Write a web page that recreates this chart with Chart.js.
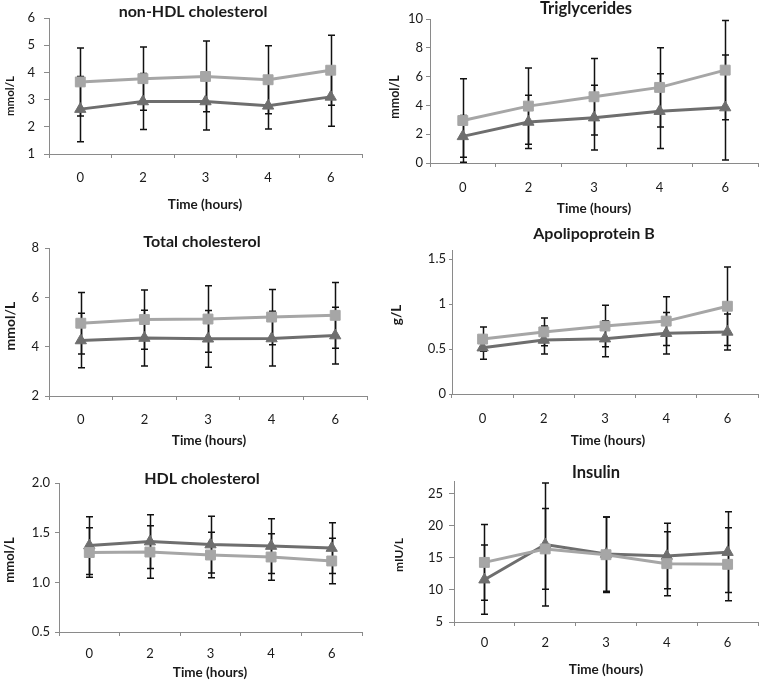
<!DOCTYPE html>
<html><head><meta charset="utf-8">
<script src="https://cdn.jsdelivr.net/npm/chart.js@4/dist/chart.umd.min.js"></script>
<style>
html,body{margin:0;padding:0;background:#fff;}
#wrap{position:relative;width:766px;height:681px;overflow:hidden;}
canvas{position:absolute;display:block;}
</style></head><body><div id="wrap"></div>
<script>
// ---------- data ----------
const timeLabels = ['0', '2', '3', '4', '6'];

// non-HDL cholesterol (mmol/L)
const nonHdlSquareMean = [3.65, 3.77, 3.85, 3.73, 4.08];
const nonHdlSquareSd   = [1.25, 1.16, 1.30, 1.25, 1.29];
const nonHdlTriMean    = [2.65, 2.93, 2.93, 2.77, 3.10];
const nonHdlTriSd      = [1.20, 1.03, 1.05, 0.85, 1.08];
const nonHdlTicks      = [1, 2, 3, 4, 5, 6];

// Triglycerides (mmol/L)
const tgSquareMean = [2.95, 3.95, 4.60, 5.25, 6.45];
const tgSquareSd   = [2.90, 2.65, 2.65, 2.75, 3.45];
const tgTriMean    = [1.85, 2.85, 3.15, 3.60, 3.85];
const tgTriSd      = [1.45, 1.85, 2.25, 2.60, 3.65];
const tgTicks      = [0, 2, 4, 6, 8, 10];

// Total cholesterol (mmol/L)
const tcSquareMean = [4.95, 5.10, 5.12, 5.20, 5.27];
const tcSquareSd   = [1.25, 1.20, 1.35, 1.12, 1.33];
const tcTriMean    = [4.25, 4.35, 4.32, 4.33, 4.45];
const tcTriSd      = [1.10, 1.13, 1.15, 1.11, 1.15];
const tcTicks      = [2, 4, 6, 8];

// Apolipoprotein B (g/L)
const apoSquareMean = [0.61, 0.69, 0.755, 0.81, 0.975];
const apoSquareSd   = [0.135, 0.155, 0.23, 0.27, 0.435];
const apoTriMean    = [0.515, 0.60, 0.615, 0.675, 0.69];
const apoTriSd      = [0.13, 0.155, 0.20, 0.23, 0.20];
const apoTicks      = [0, 0.5, 1, 1.5];

// HDL cholesterol (mmol/L)
const hdlSquareMean = [1.30, 1.305, 1.275, 1.255, 1.215];
const hdlSquareSd   = [0.25, 0.265, 0.23, 0.235, 0.23];
const hdlTriMean    = [1.37, 1.41, 1.38, 1.365, 1.345];
const hdlTriSd      = [0.29, 0.27, 0.285, 0.275, 0.255];
const hdlTicks      = [0.5, 1.0, 1.5, 2.0];

// Insulin (mIU/L)
const insSquareMean = [14.3, 16.4, 15.5, 14.1, 14.0];
const insSquareSd   = [5.9, 6.3, 5.9, 5.0, 5.7];
const insTriMean    = [11.6, 17.1, 15.6, 15.3, 15.9];
const insTriSd      = [5.4, 9.6, 5.8, 5.1, 6.3];
const insTicks      = [5, 10, 15, 20, 25];

// ---------- panels ----------
const panels = [
  {title: 'non-HDL cholesterol', yTitle: 'mmol/L', sq: nonHdlSquareMean, sqSd: nonHdlSquareSd, tri: nonHdlTriMean, triSd: nonHdlTriSd, ticks: nonHdlTicks, min: 1, max: 6, dec: null,
   box: [0, 0, 383, 220], area: {l: 49, r: 362, t: 18, b: 154}, yTick: 5, yPad: 9, xLabelY: 178,
   titlePos: [193, 12, 16], xTitlePos: [205, 205, 13.5], yTitlePos: [10, 96, 11.5]},
  {title: 'Triglycerides', yTitle: 'mmol/L', sq: tgSquareMean, sqSd: tgSquareSd, tri: tgTriMean, triSd: tgTriSd, ticks: tgTicks, min: 0, max: 10, dec: null,
   box: [383, 0, 383, 220], area: {l: 47, r: 377, t: 19, b: 163}, yTick: 4, yPad: 3, xLabelY: 188,
   titlePos: [203, 9, 16.5], xTitlePos: [211, 209, 13.5], yTitlePos: [12, 97, 12.5]},
  {title: 'Total cholesterol', yTitle: 'mmol/L', sq: tcSquareMean, sqSd: tcSquareSd, tri: tcTriMean, triSd: tcTriSd, ticks: tcTicks, min: 2, max: 8, dec: null,
   box: [0, 220, 383, 230], area: {l: 49, r: 367, t: 28, b: 176}, yTick: 4, yPad: 6, xLabelY: 200,
   titlePos: [202, 22, 16], xTitlePos: [209, 221, 13.5], yTitlePos: [10, 106, 14]},
  {title: 'Apolipoprotein B', yTitle: 'g/L', sq: apoSquareMean, sqSd: apoSquareSd, tri: apoTriMean, triSd: apoTriSd, ticks: apoTicks, min: 0, max: 1.6, dec: null,
   box: [383, 220, 383, 230], area: {l: 69, r: 379, t: 30, b: 174}, yTick: 3, yPad: 3, xLabelY: 199,
   titlePos: [211, 14, 16], xTitlePos: [225, 221, 13.5], yTitlePos: [14, 95, 13.5]},
  {title: 'HDL cholesterol', yTitle: 'mmol/L', sq: hdlSquareMean, sqSd: hdlSquareSd, tri: hdlTriMean, triSd: hdlTriSd, ticks: hdlTicks, min: 0.5, max: 2.0, dec: 1,
   box: [0, 450, 383, 231], area: {l: 59, r: 362, t: 33, b: 182}, yTick: 4, yPad: 5, xLabelY: 204,
   titlePos: [202, 29, 16], xTitlePos: [210, 223, 13.5], yTitlePos: [10, 110, 13]},
  {title: 'Insulin', yTitle: 'mIU/L', sq: insSquareMean, sqSd: insSquareSd, tri: insTriMean, triSd: insTriSd, ticks: insTicks, min: 5, max: 27, dec: null,
   box: [383, 450, 383, 231], area: {l: 71, r: 376, t: 31, b: 172}, yTick: 5, yPad: 6, xLabelY: 193,
   titlePos: [213, 23, 16.5], xTitlePos: [223, 220, 13.5], yTitlePos: [16, 105, 12]}
];

const FONT = 'Lato, "Open Sans", sans-serif';
const TEXT = '#1a1a1a';
const AXIS = '#8a8a8a';
const LIGHT = '#a6a6a6';
const DARK = '#6e6e6e';
const TICK_SIZE = 13;

const errorBars = {
  id: 'errorBars',
  beforeDatasetsDraw(chart) {
    const ctx = chart.ctx, ys = chart.scales.y;
    ctx.save();
    ctx.strokeStyle = '#111';
    ctx.lineWidth = 1.5;
    chart.data.datasets.forEach((ds, di) => {
      const meta = chart.getDatasetMeta(di);
      meta.data.forEach((pt, i) => {
        const m = ds.data[i], s = ds.sd[i];
        const x = Math.round(pt.x) + 0.5;
        const yt = ys.getPixelForValue(m + s), yb = ys.getPixelForValue(m - s);
        ctx.beginPath();
        ctx.moveTo(x, yt); ctx.lineTo(x, yb);
        ctx.moveTo(x - 3.5, yt); ctx.lineTo(x + 3.5, yt);
        ctx.moveTo(x - 3.5, yb); ctx.lineTo(x + 3.5, yb);
        ctx.stroke();
      });
    });
    ctx.restore();
  }
};

const panelText = {
  id: 'panelText',
  afterDraw(chart, args, o) {
    const ctx = chart.ctx;
    ctx.save();
    ctx.fillStyle = TEXT;
    ctx.textAlign = 'center';
    ctx.textBaseline = 'middle';
    ctx.font = 'bold ' + o.titlePos[2] + 'px ' + FONT;
    ctx.fillText(o.title, o.titlePos[0], o.titlePos[1]);
    ctx.font = 'bold ' + o.xTitlePos[2] + 'px ' + FONT;
    ctx.fillText('Time (hours)', o.xTitlePos[0], o.xTitlePos[1]);
    ctx.translate(o.yTitlePos[0], o.yTitlePos[1]);
    ctx.rotate(-Math.PI / 2);
    ctx.font = 'bold ' + o.yTitlePos[2] + 'px ' + FONT;
    ctx.fillText(o.yTitle, 0, 0);
    ctx.restore();
  }
};

const wrap = document.getElementById('wrap');
panels.forEach((p) => {
  const cv = document.createElement('canvas');
  const [bx, by, bw, bh] = p.box;
  cv.width = bw; cv.height = bh;
  cv.style.left = bx + 'px'; cv.style.top = by + 'px';
  cv.style.width = bw + 'px'; cv.style.height = bh + 'px';
  wrap.appendChild(cv);
  const lh = TICK_SIZE * 1.2;
  const xPad = p.xLabelY - p.area.b - 4 - lh / 2;
  new Chart(cv, {
    type: 'line',
    data: {
      labels: timeLabels,
      datasets: [
        {data: p.sq, sd: p.sqSd, borderColor: LIGHT, backgroundColor: LIGHT, borderWidth: 3,
         pointStyle: 'rect', pointRadius: 7, pointBorderWidth: 1, pointBorderColor: LIGHT, pointBackgroundColor: LIGHT, tension: 0},
        {data: p.tri, sd: p.triSd, borderColor: DARK, backgroundColor: DARK, borderWidth: 3,
         pointStyle: 'triangle', pointRadius: 6.5, pointBorderWidth: 1, pointBorderColor: DARK, pointBackgroundColor: DARK, tension: 0}
      ]
    },
    plugins: [errorBars, panelText],
    options: {
      responsive: false,
      devicePixelRatio: 1,
      animation: false,
      layout: {padding: {left: 0, top: p.area.t, right: bw - p.area.r, bottom: 0}},
      plugins: {legend: {display: false}, tooltip: {enabled: false}, title: {display: false}, panelText: p},
      scales: {
        x: {
          type: 'category', offset: true,
          grid: {display: true, drawOnChartArea: false, drawTicks: true, tickLength: 4, offset: true, color: AXIS, lineWidth: 1},
          border: {display: true, color: AXIS, width: 1},
          ticks: {font: {family: FONT, size: TICK_SIZE, lineHeight: 1.2}, color: TEXT, padding: xPad, maxRotation: 0, autoSkip: false},
          afterFit(s) { s.height = bh - p.area.b; }
        },
        y: {
          min: p.min, max: p.max,
          grid: {display: true, drawOnChartArea: false, drawTicks: true, tickLength: p.yTick, color: AXIS, lineWidth: 1},
          border: {display: true, color: AXIS, width: 1},
          ticks: {font: {family: FONT, size: TICK_SIZE, lineHeight: 1.2}, color: TEXT, padding: p.yPad,
                  callback: (v) => p.dec !== null ? Number(v).toFixed(p.dec) : String(v)},
          afterBuildTicks(s) { s.ticks = p.ticks.map(v => ({value: v})); },
          afterFit(s) { s.width = p.area.l; }
        }
      }
    }
  });
});
</script></body></html>
